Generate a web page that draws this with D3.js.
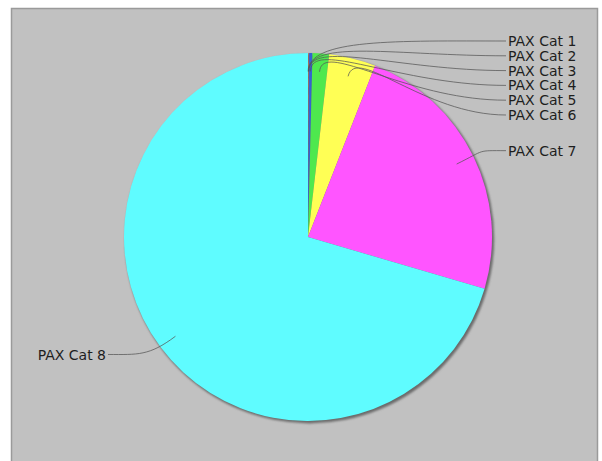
<!DOCTYPE html>
<html>
<head>
<meta charset="utf-8">
<script src="https://cdn.jsdelivr.net/npm/d3@7/dist/d3.min.js"></script>
<style>
  html, body { margin: 0; padding: 0; background: #ffffff; }
  svg { display: block; }
  text { font-family: "DejaVu Sans", Verdana, sans-serif; }
</style>
</head>
<body>
<div id="chart"></div>
<script>
// Passenger category shares (percent)
const categories = ["PAX Cat 1", "PAX Cat 2", "PAX Cat 3", "PAX Cat 4",
                    "PAX Cat 5", "PAX Cat 6", "PAX Cat 7", "PAX Cat 8"];
const shares = [0.03, 0.03, 0.03, 0.3, 1.45, 4.1, 23.6, 70.46];
const colors = ["#e04040", "#2040a0", "#ff9933", "#3563d0",
                "#4ee84e", "#ffff55", "#ff55ff", "#5ffcff"];

const W = 602, H = 461;
const cx = 308, cy = 237, R = 184;

const svg = d3.select("#chart").append("svg")
  .attr("width", W).attr("height", H);

// panel background
svg.append("rect")
  .attr("x", 11.5).attr("y", 8.5)
  .attr("width", 586).attr("height", 460)
  .attr("fill", "#c1c1c1")
  .attr("stroke", "#9a9a9a").attr("stroke-width", 1.5);

const data = categories.map((c, i) => ({ name: c, value: shares[i], color: colors[i] }));

const pie = d3.pie().value(d => d.value).sort(null);
const arcs = pie(data);
const arc = d3.arc().innerRadius(0).outerRadius(R);

const defs = svg.append("defs");
defs.append("filter").attr("id", "soft")
  .append("feGaussianBlur").attr("stdDeviation", 0.8);

const g = svg.append("g").attr("transform", `translate(${cx},${cy})`);

// drop shadow under the pie
g.append("circle")
  .attr("cx", 1.6).attr("cy", 1.8).attr("r", R + 0.6)
  .attr("fill", "#6c6c6c")
  .attr("filter", "url(#soft)");

g.selectAll("path.slice")
  .data(arcs)
  .join("path")
  .attr("class", "slice")
  .attr("d", arc)
  .attr("fill", d => d.data.color);

// label layout: right side stacked downward, left side right-aligned
const mid = d => (d.startAngle + d.endAngle) / 2;
const labelR = R + 12;
const gap = 14.8;
const right = arcs.filter(d => mid(d) < Math.PI);
const left = arcs.filter(d => mid(d) >= Math.PI);

let prev = -Infinity;
right.forEach(d => {
  let y = -labelR * Math.cos(mid(d));
  if (y < prev + gap) y = prev + gap;
  d.ly = y; prev = y;
  d.lx = R + 16;
  d.side = 1;
});
left.forEach(d => {
  d.ly = -labelR * Math.cos(mid(d));
  d.lx = -R - 18;
  d.side = -1;
});

const leader = d => {
  const a = mid(d);
  const r0 = R * 0.9;
  const x0 = r0 * Math.sin(a), y0 = -r0 * Math.cos(a);
  const r1 = R * 1.08;
  const x1 = r1 * Math.sin(a), y1 = -r1 * Math.cos(a);
  const xe = d.lx - 2 * d.side, ye = d.ly;
  const x2 = xe - d.side * Math.max(30, Math.abs(xe - x1) * 0.55);
  const p = d3.path();
  p.moveTo(x0, y0);
  p.bezierCurveTo(x1, y1, x2, ye, xe, ye);
  return p.toString();
};

g.selectAll("path.leader")
  .data(arcs)
  .join("path")
  .attr("class", "leader")
  .attr("d", leader)
  .attr("fill", "none")
  .attr("stroke", "#555")
  .attr("stroke-opacity", 0.75)
  .attr("stroke-width", 1);

g.selectAll("text.label")
  .data(arcs)
  .join("text")
  .attr("class", "label")
  .attr("x", d => d.lx)
  .attr("y", d => d.ly)
  .attr("dy", "0.36em")
  .attr("text-anchor", d => d.side > 0 ? "start" : "end")
  .attr("font-size", 14)
  .attr("fill", "#1e1e1e")
  .text(d => d.data.name);
</script>
</body>
</html>
